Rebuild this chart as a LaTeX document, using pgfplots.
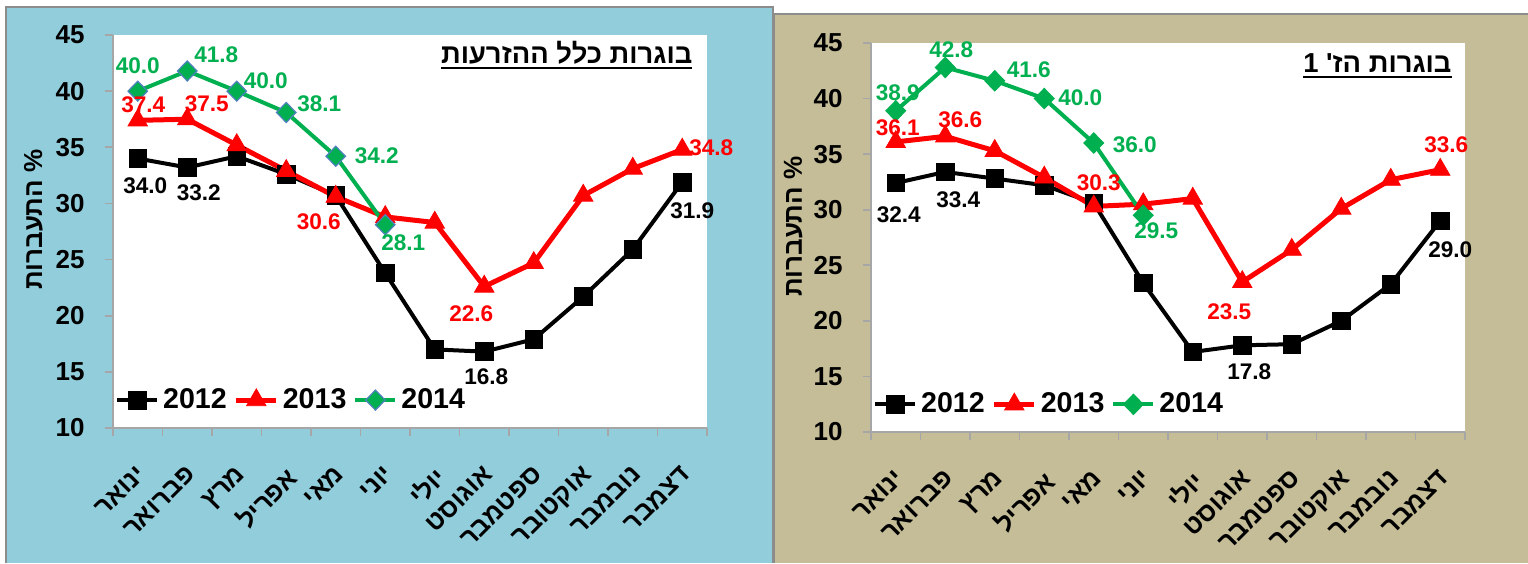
\documentclass[border=0pt]{standalone}
\usepackage{fontspec}
\setmainfont{Liberation Sans}
\newfontfamily\hebfont[Script=Hebrew]{Liberation Sans}
\usepackage{pgfplots}
\pgfplotsset{compat=1.18}
\usepackage{pgfplotstable}
\TeXXeTstate=1
\definecolor{bgblue}{HTML}{92CDDC}
\definecolor{bgtan}{HTML}{C4BD97}
\definecolor{xlgreen}{HTML}{00B050}
\definecolor{xlred}{HTML}{FF0000}
\definecolor{dblue}{HTML}{4F81BD}
\definecolor{axgray}{HTML}{A6A6A6}
\definecolor{bordergray}{HTML}{8C8C8C}
\newcommand\heb[1]{{\hebfont\bfseries\beginR #1\endR}}
\newcommand\ul[1]{\setbox0\hbox{#1}\vtop{\copy0\kern1.5pt\hrule width\wd0 height 1pt}}

\pgfplotsset{
  panel/.style={
    scale only axis, width=297pt,
    xmin=0.5, xmax=12.5, ymin=10, ymax=45,
    ytick={10,15,...,45},
    xtick={1,...,12},
    minor xtick={0.5,1.5,...,12.5},
    xticklabels={\heb{ינואר},\heb{פברואר},\heb{מרץ},\heb{אפריל},\heb{מאי},\heb{יוני},\heb{יולי},\heb{אוגוסט},\heb{ספטמבר},\heb{אוקטובר},\heb{נובמבר},\heb{דצמבר}},
    axis x line*=bottom, axis y line*=left,
    axis line style={axgray, line width=0.8pt},
    tick align=outside,
    major tick length=4pt, minor tick length=4pt,
    major x tick style={draw=none},
    minor x tick style={axgray, line width=0.8pt},
    ytick style={axgray, line width=0.8pt},
    axis background/.style={fill=white},
    clip=false,
    /pgf/number format/assume math mode=true,
    yticklabel style={font=\bfseries\fontsize{13}{13}\selectfont, anchor=east, inner sep=0pt, xshift=-10pt},
    xticklabel style={font=\fontsize{13}{13}\selectfont, yshift=-14pt, xshift=-1pt, rotate=45, anchor=north east, inner sep=0pt},
    ylabel style={font=\fontsize{13}{13}\selectfont, anchor=center},
    title style={font=\fontsize{13.7}{13.7}\selectfont, anchor=base east, inner sep=0pt},
    legend style={draw=none, fill=none, legend columns=3, anchor=west,
      font=\bfseries\fontsize{14.3}{14.3}\selectfont, inner sep=0pt,
      /tikz/every even column/.append style={column sep=1.5pt}},
    legend image code/.code={\draw[mark repeat=2, mark phase=2, #1] plot coordinates {(0pt,0pt) (10pt,0pt) (20pt,0pt)};},
  },
  s12/.style={black, line width=2pt, mark=square*, mark size=4.4pt, mark options={line width=0.4pt}},
  s13/.style={xlred, line width=2.5pt, mark=triangle*, mark size=5.6pt, mark options={line width=0.4pt}},
  lab/.style={forget plot, draw=none, mark=none, nodes near coords, point meta=explicit symbolic,
    visualization depends on={\thisrow{dx} \as \dx},
    visualization depends on={\thisrow{dy} \as \dy},
    every node near coord/.append style={anchor=center, xshift=\dx pt, yshift=\dy pt, text=#1,
      font=\bfseries\fontsize{11.3}{11.3}\selectfont, inner sep=0pt}},
}

\begin{document}
\begin{tikzpicture}
\path[use as bounding box] (0,0) rectangle (764pt,281.5pt);
\fill[white] (0,0) rectangle (764pt,281.5pt);
\fill[bgblue] (3pt,0) rectangle (386.5pt,278pt);
\draw[bordergray, line width=0.8pt] (3pt,0) -- (3pt,278pt) -- (386.5pt,278pt) -- (386.5pt,0);
\fill[bgtan] (387pt,0) rectangle (764pt,274.5pt);
\draw[bordergray, line width=0.8pt] (387pt,0) -- (387pt,274.5pt) -- (764pt,274.5pt);

% ---------------- left panel ----------------
\begin{axis}[panel, at={(56.5pt,67.5pt)}, anchor=south west, height=196.5pt,
  ylabel={{\hebfont\bfseries\beginR\% התעברות\endR}},
  ylabel style={at={(axis description cs:-0.134,0.53)}},
  title={\ul{{\hebfont\bfseries\beginR בוגרות כלל ההזרעות\endR}}},
  title style={at={(axis description cs:0.976,0.897)}},
  legend style={at={(axis description cs:0.003,0.071)}},
]
\addplot[s12] coordinates {(1,34.0)(2,33.2)(3,34.2)(4,32.6)(5,30.7)(6,23.8)(7,17.0)(8,16.8)(9,17.9)(10,21.7)(11,25.9)(12,31.9)};
\addplot[s13] coordinates {(1,37.4)(2,37.5)(3,35.2)(4,32.9)(5,30.6)(6,28.8)(7,28.3)(8,22.6)(9,24.7)(10,30.7)(11,33.1)(12,34.8)};
\addplot[xlgreen, line width=2pt, mark=diamond*, mark size=5pt, mark options={xscale=1.3, fill=xlgreen, draw=dblue, line width=0.6pt}] coordinates {(1,40.0)(2,41.8)(3,40.0)(4,38.1)(5,34.2)(6,28.1)};
\legend{2012,2013,2014}
\addplot[lab=black] table[x=x, y=y, meta=lab] {
x y lab dx dy
1 34.0 34.0 3.75 -13.5
2 33.2 33.2 5.75 -12.5
8 16.8 16.8 1 -12.5
12 31.9 31.9 5 -14.5
};
\addplot[lab=xlred] table[x=x, y=y, meta=lab] {
x y lab dx dy
1 37.4 37.4 2.75 8
2 37.5 37.5 9.75 7.5
5 30.6 30.6 -8.5 -12.5
8 22.6 22.6 -6.5 -13.5
12 34.8 34.8 14.5 1
};
\addplot[lab=xlgreen] table[x=x, y=y, meta=lab] {
x y lab dx dy
1 40.0 40.0 0 12.5
2 41.8 41.8 14.5 8.25
3 40.0 40.0 14.5 5
4 38.1 38.1 16.5 4.25
5 34.2 34.2 20.5 0.5
6 28.1 28.1 9 -8.75
};
\end{axis}

% ---------------- right panel ----------------
\begin{axis}[panel, at={(435.5pt,65.5pt)}, anchor=south west, height=194.5pt,
  ylabel={{\hebfont\bfseries\beginR\% התעברות\endR}},
  ylabel style={at={(axis description cs:-0.131,0.528)}},
  title={\ul{{\hebfont\bfseries\beginR בוגרות הז\kern0pt' 1\endR}}},
  title style={at={(axis description cs:0.978,0.893)}},
  legend style={at={(axis description cs:0.003,0.071)}},
]
\addplot[s12] coordinates {(1,32.4)(2,33.4)(3,32.8)(4,32.2)(5,30.6)(6,23.4)(7,17.2)(8,17.8)(9,17.9)(10,20.0)(11,23.3)(12,29.0)};
\addplot[s13] coordinates {(1,36.1)(2,36.6)(3,35.3)(4,32.9)(5,30.3)(6,30.5)(7,31.0)(8,23.5)(9,26.4)(10,30.1)(11,32.7)(12,33.6)};
\addplot[xlgreen, line width=2pt, mark=diamond*, mark size=5pt, mark options={xscale=1.3, fill=xlgreen, draw=xlgreen, line width=0.6pt}] coordinates {(1,38.9)(2,42.8)(3,41.6)(4,40.0)(5,36.0)(6,29.5)};
\legend{2012,2013,2014}
\addplot[lab=black] table[x=x, y=y, meta=lab] {
x y lab dx dy
1 32.4 32.4 1.5 -15.75
2 33.4 33.4 6.5 -13.75
8 17.8 17.8 3.5 -13
12 29.0 29.0 5 -14.25
};
\addplot[lab=xlred] table[x=x, y=y, meta=lab] {
x y lab dx dy
1 36.1 36.1 1 7.25
2 36.6 36.6 7.5 8.5
5 30.3 30.3 2.5 12
8 23.5 23.5 -6.5 -15
12 33.6 33.6 3 12.5
};
\addplot[lab=xlgreen] table[x=x, y=y, meta=lab] {
x y lab dx dy
1 38.9 38.9 1 9
2 42.8 42.8 3 8.75
3 41.6 41.6 17 5.5
4 40.0 40.0 18 0.5
5 36.0 36.0 20.5 -0.75
6 29.5 29.5 6.5 -7.5
};
\end{axis}
\end{tikzpicture}
\end{document}
